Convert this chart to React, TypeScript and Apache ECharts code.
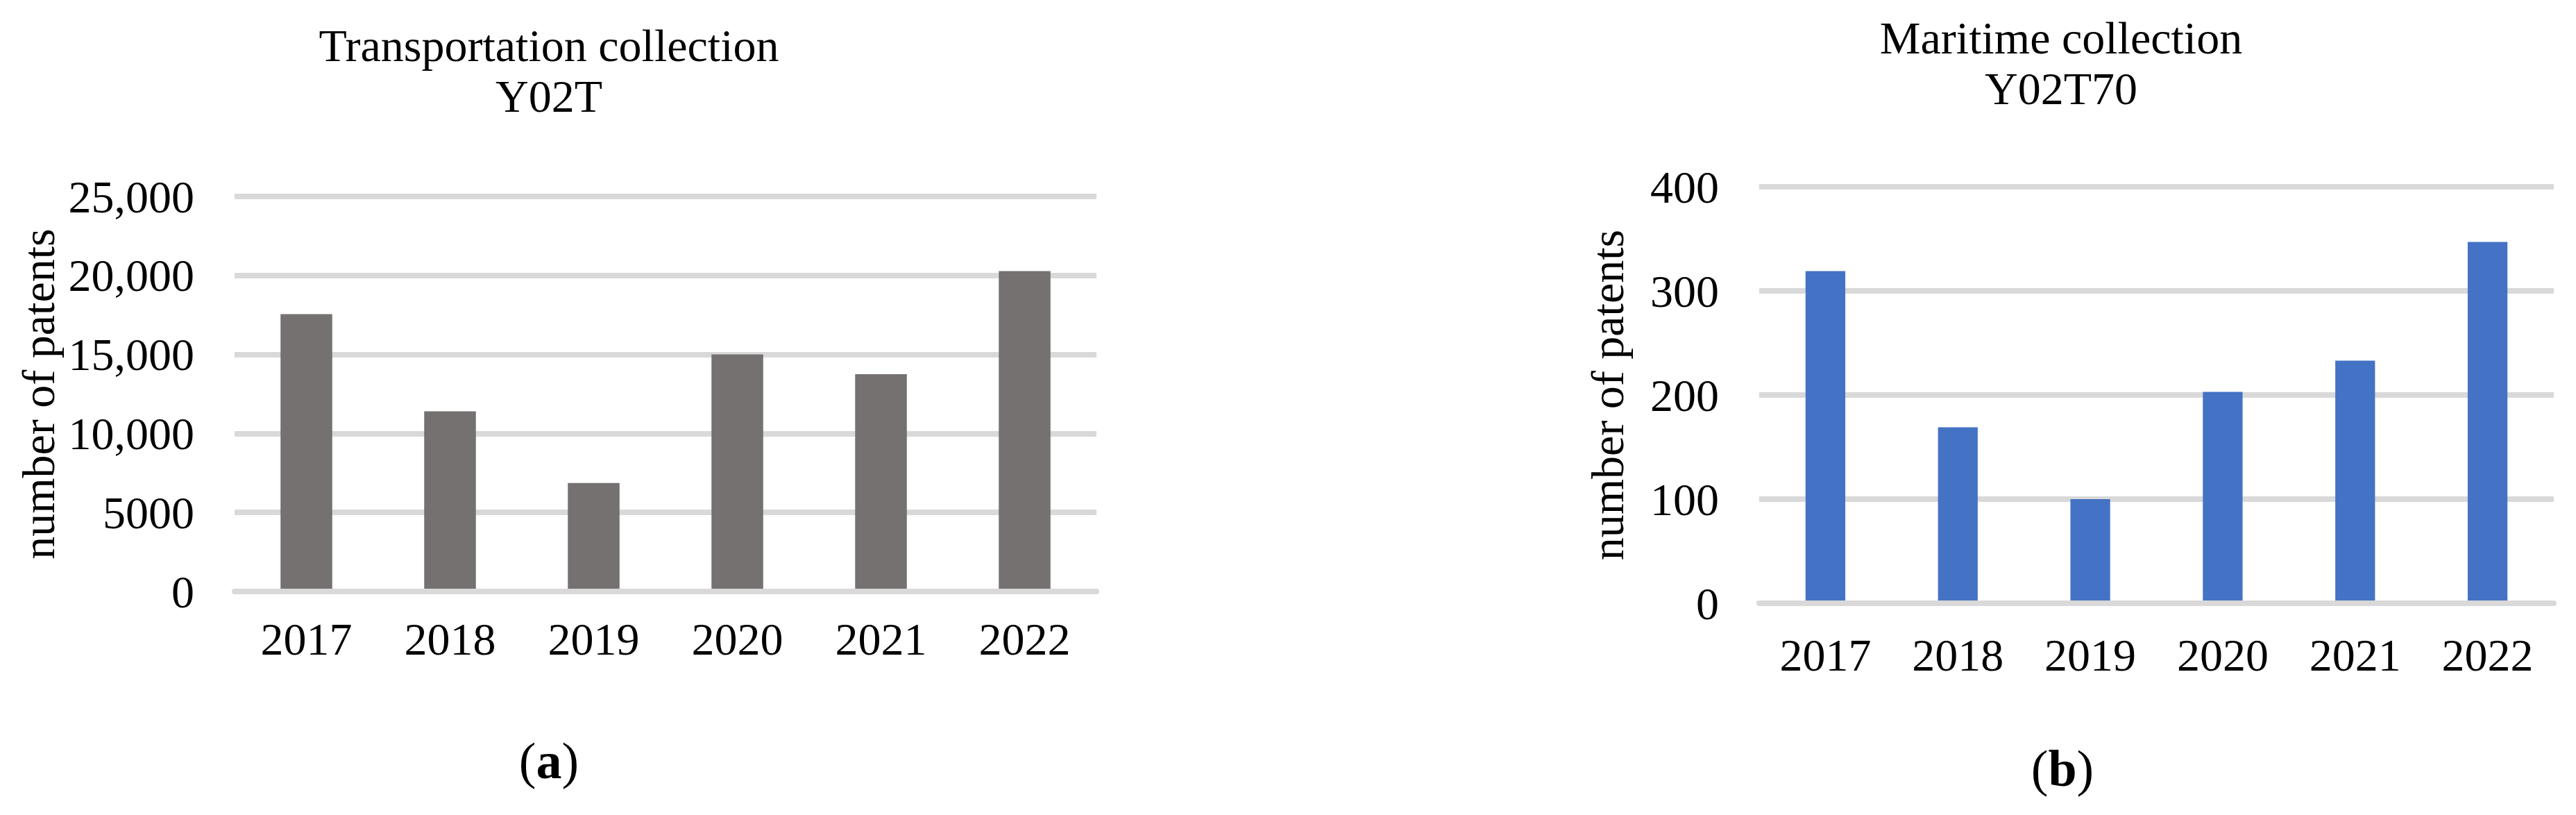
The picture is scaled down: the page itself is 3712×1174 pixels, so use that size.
import React, { useEffect, useRef } from "react";
import * as echarts from "echarts";

const years = ["2017", "2018", "2019", "2020", "2021", "2022"];
const transportationPatents = [17550, 11400, 6870, 15000, 13750, 20280];
const maritimePatents = [319, 169, 100, 203, 233, 347];

const leftTitle = "Transportation collection\nY02T";
const rightTitle = "Maritime collection\nY02T70";
const yAxisName = "number of patents";

const FONT = "'Liberation Serif', 'Times New Roman', serif";
const GRID_COLOR = "#D9D9D9";

function fmtLeft(v: number): string {
  return v >= 10000 ? v.toLocaleString("en-US") : String(v);
}

export default function App() {
  const ref = useRef<HTMLDivElement>(null);

  useEffect(() => {
    if (!ref.current) return;
    const chart = echarts.init(ref.current, undefined, { renderer: "svg" });

    const axisLabelStyle = { color: "#000", fontFamily: FONT, fontSize: 66 };

    const option: any = {
      animation: false,
      backgroundColor: "#fff",
      grid: [
        { left: 338, right: 3712 - 1580, top: 283, bottom: 1174 - 852 },
        { left: 2535, right: 3712 - 3680, top: 269, bottom: 1174 - 869 },
      ],
      xAxis: [
        {
          type: "category",
          gridIndex: 0,
          data: years,
          z: 5,
          axisTick: { show: false },
          axisLine: { show: true, lineStyle: { color: GRID_COLOR, width: 8 } },
          axisLabel: { ...axisLabelStyle, margin: 35 },
        },
        {
          type: "category",
          gridIndex: 1,
          data: years,
          z: 5,
          axisTick: { show: false },
          axisLine: { show: true, lineStyle: { color: GRID_COLOR, width: 8 } },
          axisLabel: { ...axisLabelStyle, margin: 41 },
        },
      ],
      yAxis: [
        {
          type: "value",
          gridIndex: 0,
          min: 0,
          max: 25000,
          interval: 5000,
          axisLine: { show: false },
          axisTick: { show: false },
          splitLine: { show: true, lineStyle: { color: GRID_COLOR, width: 8 } },
          axisLabel: { ...axisLabelStyle, margin: 58, formatter: fmtLeft },
          name: yAxisName,
          nameLocation: "middle",
          nameRotate: 90,
          nameGap: 250,
          nameTextStyle: { color: "#000", fontFamily: FONT, fontSize: 66 },
        },
        {
          type: "value",
          gridIndex: 1,
          min: 0,
          max: 400,
          interval: 100,
          axisLine: { show: false },
          axisTick: { show: false },
          splitLine: { show: true, lineStyle: { color: GRID_COLOR, width: 8 } },
          axisLabel: { ...axisLabelStyle, margin: 58 },
          name: yAxisName,
          nameLocation: "middle",
          nameRotate: 90,
          nameGap: 186,
          nameTextStyle: { color: "#000", fontFamily: FONT, fontSize: 66 },
        },
      ],
      series: [
        {
          type: "bar",
          xAxisIndex: 0,
          yAxisIndex: 0,
          data: transportationPatents,
          barWidth: "36%",
          itemStyle: { color: "#767171" },
        },
        {
          type: "bar",
          xAxisIndex: 1,
          yAxisIndex: 1,
          data: maritimePatents,
          barWidth: "30%",
          itemStyle: { color: "#4472C4" },
        },
      ],
      graphic: [
        {
          type: "text",
          x: 791,
          y: 29,
          style: {
            text: leftTitle,
            font: `66px ${FONT}`,
            fill: "#000",
            align: "center",
            verticalAlign: "top",
            textAlign: "center",
            textVerticalAlign: "top",
            lineHeight: 73,
          },
        },
        {
          type: "text",
          x: 2970,
          y: 18,
          style: {
            text: rightTitle,
            font: `66px ${FONT}`,
            fill: "#000",
            align: "center",
            verticalAlign: "top",
            textAlign: "center",
            textVerticalAlign: "top",
            lineHeight: 73,
          },
        },
        {
          type: "text",
          x: 791,
          y: 1096,
          style: {
            text: "({b|a})",
            rich: { b: { fontWeight: "bold", fontFamily: FONT, fontSize: 74, fill: "#000" } },
            font: `74px ${FONT}`,
            fill: "#000",
            align: "center",
            verticalAlign: "middle",
            textAlign: "center",
            textVerticalAlign: "middle",
          },
        },
        {
          type: "text",
          x: 2972,
          y: 1107,
          style: {
            text: "({b|b})",
            rich: { b: { fontWeight: "bold", fontFamily: FONT, fontSize: 74, fill: "#000" } },
            font: `74px ${FONT}`,
            fill: "#000",
            align: "center",
            verticalAlign: "middle",
            textAlign: "center",
            textVerticalAlign: "middle",
          },
        },
      ],
    };

    chart.setOption(option);
    return () => chart.dispose();
  }, []);

  return (
    <div
      ref={ref}
      style={{ position: "absolute", left: 0, top: 0, width: 3712, height: 1174 }}
    />
  );
}
